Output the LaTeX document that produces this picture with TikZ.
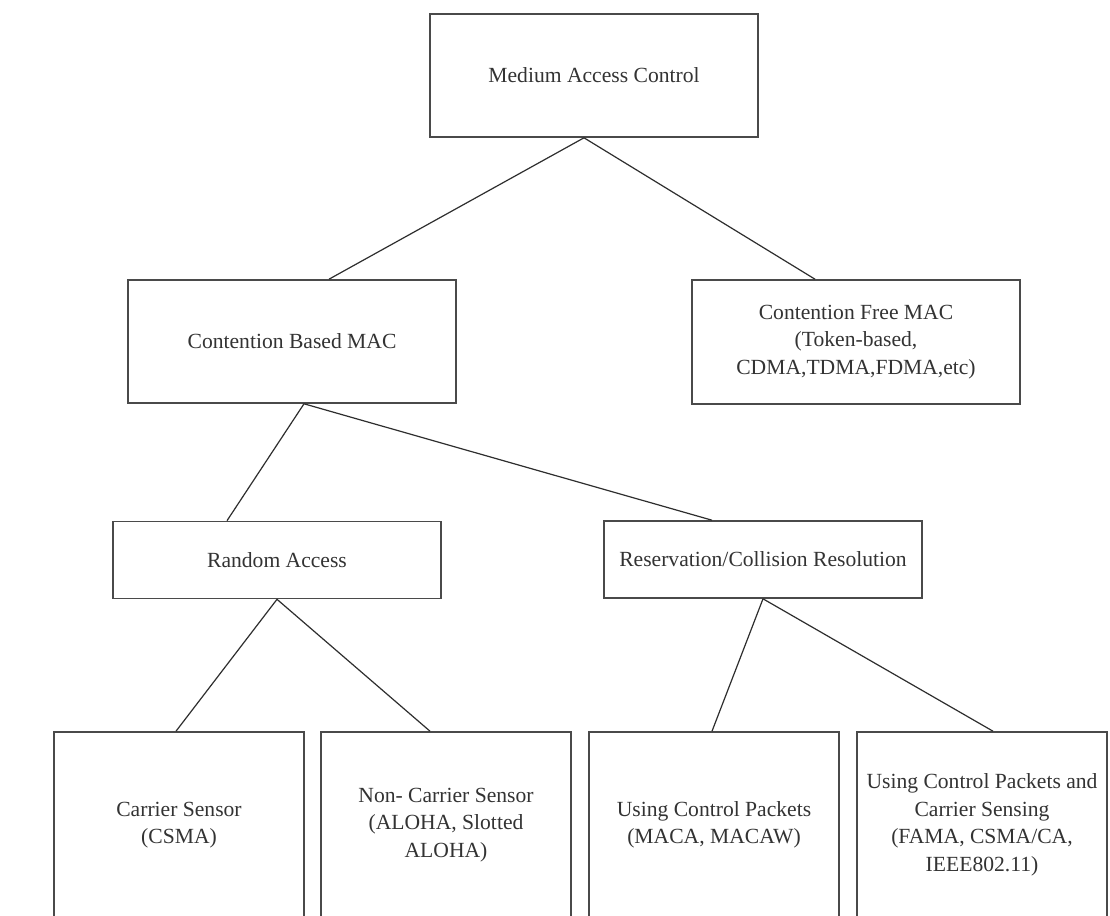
\documentclass[tikz,border=0pt]{standalone}
\usepackage{fontspec}
\setmainfont{Liberation Serif}
\usetikzlibrary{calc}
\definecolor{boxline}{HTML}{4A4A4A}
\definecolor{wire}{HTML}{2E2E2E}
\definecolor{ink}{HTML}{333333}
\tikzset{
  box/.style={draw=boxline, line width=1.6pt, fill=white, rectangle, inner sep=0pt,
    align=center, text=ink, anchor=center,
    font=\fontsize{21.6}{27.5}\selectfont},
  leaf/.style={box, minimum width=250pt, minimum height=186pt},
  link/.style={draw=wire, line width=1.2pt}
}
\begin{document}
\begin{tikzpicture}[x=1pt,y=-1pt]
  \clip (0,0) rectangle (1110,915);
  \fill[white] (0,0) rectangle (1110,915);

  % top level
  \node[box, minimum width=328pt, minimum height=123pt] (mac) at (594,75.5) {Medium Access Control};

  % second level
  \node[box, minimum width=328pt, minimum height=123pt] (cb) at (292,341.5) {Contention Based MAC};
  \node[box, minimum width=328pt, minimum height=124pt] (cf) at (856,342)
    {Contention Free MAC\\(Token-based,\\CDMA,TDMA,FDMA,etc)};

  % third level
  \node[box, minimum width=328pt, minimum height=77pt] (ra) at (277,560) {Random Access};
  \node[box, minimum width=318pt, minimum height=77pt] (res) at (763,559.5) {Reservation/Collision Resolution};

  % leaves (running off the lower edge)
  \node[leaf] (cs) at (179,825) {Carrier Sensor\\(CSMA)};
  \node[leaf] (ncs) at (446,825) {Non- Carrier Sensor\\(ALOHA, Slotted\\ALOHA)};
  \node[leaf] (ucp) at (714,825) {Using Control Packets\\(MACA, MACAW)};
  \node[leaf] (ucs) at (982,825) {Using Control Packets and\\Carrier Sensing\\(FAMA, CSMA/CA,\\IEEE802.11)};

  % connectors
  \draw[link] ([xshift=-10pt]mac.south) -- ([xshift=37pt]cb.north);
  \draw[link] ([xshift=-10pt]mac.south) -- ([xshift=-41pt]cf.north);
  \draw[link] ([xshift=12pt]cb.south) -- ([xshift=-50pt]ra.north);
  \draw[link] ([xshift=12pt]cb.south) -- ([xshift=-51pt]res.north);
  \draw[link] (ra.south) -- ([xshift=-3pt]cs.north);
  \draw[link] (ra.south) -- ([xshift=-16pt]ncs.north);
  \draw[link] (res.south) -- ([xshift=-2pt]ucp.north);
  \draw[link] (res.south) -- ([xshift=11pt]ucs.north);
\end{tikzpicture}
\end{document}
